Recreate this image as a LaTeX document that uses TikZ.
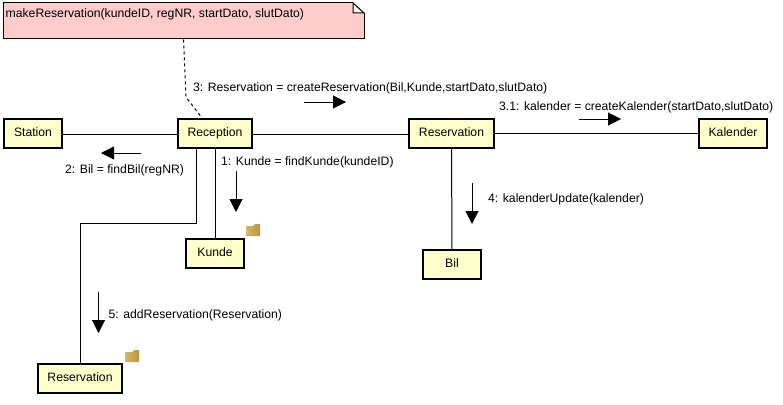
\documentclass[tikz,border=0pt]{standalone}
\usepackage{fontspec}
\setmainfont{Liberation Sans}
\usetikzlibrary{arrows.meta}
\definecolor{boxyellow}{HTML}{FFFFCC}
\definecolor{notepink}{HTML}{FFCCCC}
\definecolor{folderlight}{HTML}{D4B868}
\definecolor{folderdark}{HTML}{B8963F}
\tikzset{
	classbox/.style={draw, line width=2pt, fill=boxyellow, minimum height=29pt, inner sep=0pt, text height=9pt, text depth=3pt, font=\fontsize{12.2}{14}\selectfont},
	notebox/.style={draw, line width=1pt, fill=notepink, minimum width=361pt, minimum height=36pt, inner sep=0pt},
	msglabel/.style={anchor=west, inner sep=0pt, font=\fontsize{12.2}{14}\selectfont},
	msgarrow/.style={line width=1pt, -{Triangle[length=13pt, width=13pt]}},
	assoc/.style={line width=1pt}
}
\begin{document}
\begin{tikzpicture}[x=1pt, y=-1pt]
	\useasboundingbox (0,0) rectangle (783,404);

%note
	\node[notebox] (note) at (183.5,21) {};
	\node[msglabel] (noteText) at (5.5,14) {makeReservation(kundeID, regNR, startDato, slutDato)};
	\fill[white] (353,2) -- (365,2) -- (365,13) -- cycle;
	\fill[white] (353,3) -- (364,13) -- (353,13) -- cycle;
	\draw[line width=1pt] (353,3) -- (364,13) -- (353,13) -- cycle;

%boxes
	\foreach \xy/\name/\boxw/\txt in {{(33,133.5)/Station/58/Station},{(215,133.5)/Reception/74/Reception},{(451.5,133.5)/Reservation/85/Reservation},{(733,133.5)/Kalender/68/Kalender},{(452,264.5)/Bil/58/Bil},{(215,253)/Kunde/58/Kunde},{(80,378.5)/ReservationList/84/Reservation}} {
		\node[classbox, minimum width=\boxw pt] (\name) at \xy {\txt};
	}

%links
	\draw[assoc] ([yshift=-0.8pt]Station.east) -- ([yshift=-0.8pt]Reception.west);
	\draw[assoc] ([yshift=-0.8pt]Reception.east) -- ([yshift=-0.8pt]Reservation.west);
	\draw[assoc] (Reservation.east) -- (Kalender.west);
	\draw[assoc] (Reservation.south) -- (Bil.north);
	\draw[assoc] (Reception.south) -- (Kunde.north);
	\coordinate (turn) at (196,223.5);
	\draw[assoc] ([xshift=-19pt]Reception.south) -- (turn) -- (turn -| ReservationList.north) -- (ReservationList.north);
	\coordinate (bend) at (186,97);
	\draw[assoc, dashed] (note.south) -- (bend) -- ([xshift=25pt]Reception.north west);

%messages
	\foreach \name/\tail/\head in {{m3/(304,102)/(346,102)},{mk/(579,119)/(621,119)},{m2/(141,153)/(101,153)},{m1/(236,171)/(236,212)},{m4/(472,183)/(472,224)},{m5/(98.5,292)/(98.5,333)}} {
		\node[coordinate] (\name a) at \tail {};
		\node[coordinate] (\name b) at \head {};
		\draw[msgarrow] (\name a) -- (\name b);
	}
	\foreach \xy/\name/\txt in {{(193,88)/l3/3: Reservation = createReservation(Bil,Kunde,startDato,slutDato)},{(499,107)/lk/3.1: kalender = createKalender(startDato,slutDato)},{(65,170)/l2/2: Bil = findBil(regNR)},{(221,162)/l1/1: Kunde = findKunde(kundeID)},{(488,199)/l4/4: kalenderUpdate(kalender)},{(108.5,315.5)/l5/5: addReservation(Reservation)}} {
		\node[msglabel] (\name) at \xy {\txt};
	}

%folders
	\foreach \x/\y in {246/224, 125/350} {
		\shade[shift={(\x,\y)}, left color=folderlight, right color=folderdark] (0,2) -- (7,2) -- (9,0) -- (14,0) -- (14,12) -- (0,12) -- cycle;
	}
\end{tikzpicture}
\end{document}
